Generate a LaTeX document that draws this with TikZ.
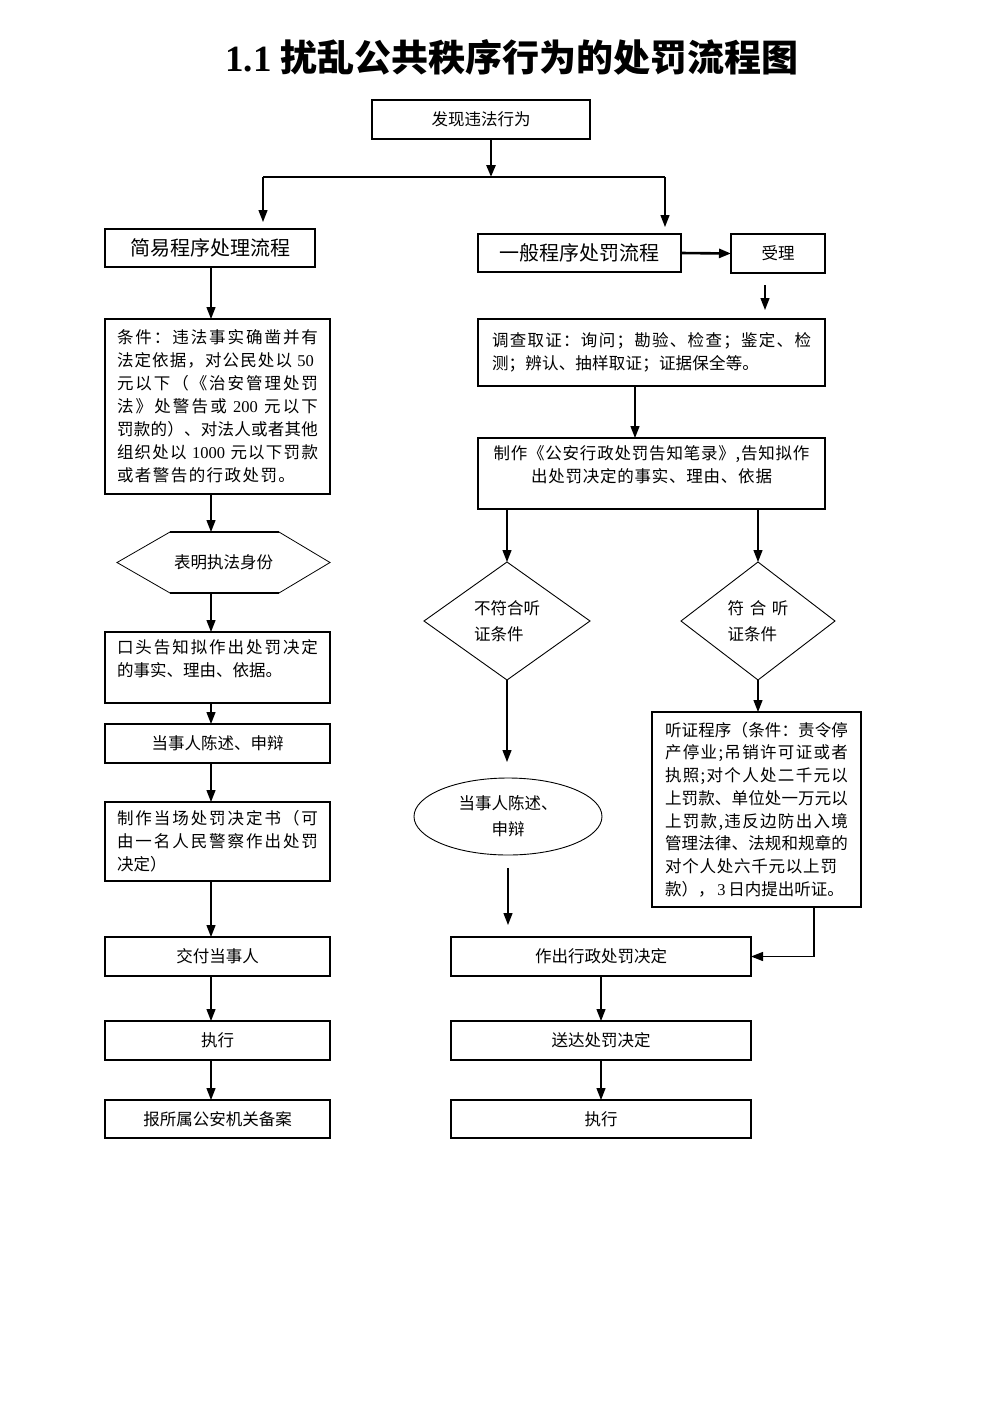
\documentclass[tikz,border=0pt]{standalone}
\usepackage{fontspec}
\setmainfont{Liberation Serif}
\newfontfamily\cjk{Noto Sans CJK SC}
\usetikzlibrary{arrows.meta,shapes.geometric,calc}
\def\spEnd{SPEND}
\def\spr#1{\sprA#1\spEnd}
\def\sprA#1{#1\sprB}
\def\sprB#1{\ifx\spEnd#1\else\hfil#1\expandafter\sprB\fi}
\newcommand\sline[2]{\makebox[#1pt][s]{\spr{#2}}}
\newcommand\dg[1]{{\rmfamily\ #1\ }}
\def\nA{\dg{50}}
\def\nB{\dg{200}}
\def\nC{\dg{1000}}
\def\nD{\dg{3}}
\newcommand\txt{\fontsize{16.5}{23}\selectfont\cjk}
\tikzset{
  box/.style={draw, rectangle, line width=1.5pt, anchor=north west, inner sep=0pt, outer sep=0pt, font=\txt, align=left},
  thickbox/.style={line width=2.6pt},
  thinline/.style={line width=1.3pt},
  thickline/.style={line width=2.6pt},
  arr/.style={line width=1.3pt, -{Triangle[length=12pt,width=9pt]}},
  shape2/.style={draw, line width=0.9pt, inner sep=0pt, outer sep=0pt, align=left}
}
\begin{document}
\begin{tikzpicture}[x=1pt,y=-1pt]
\fill[white] (0,0) rectangle (992,1403);
\useasboundingbox (0,0) rectangle (992,1403);

\node[font=\fontsize{37}{42}\selectfont\bfseries] (title) at (512,57) {1.1 {\cjk\bfseries 扰乱公共秩序行为的处罚流程图}};

% top
\node[box, minimum width=218, minimum height=39, align=center] (find) at (372,100) {发现违法行为};
\node[box, font=\fontsize{20}{24}\selectfont\cjk, minimum width=210, minimum height=38, align=center] (simple) at (105,229) {简易程序处理流程};
\node[box, thickbox, font=\fontsize{20}{24}\selectfont\cjk, minimum width=203, minimum height=38, align=center] (general) at (478,234) {一般程序处罚流程};
\node[box, minimum width=94, minimum height=39, align=center] (accept) at (731,234) {受理};

% left column
\node[box, minimum width=225, minimum height=175] (cond) at (105,319) {%
\sline{201}{条件：违法事实确凿并有}\\
\sline{201}{法定依据，对公民处以\nA}\\
\sline{201}{元以下（《治安管理处罚}\\
\sline{201}{法》处警告或\nB 元以下}\\
\sline{201}{罚款的）、对法人或者其他}\\
\sline{201}{组织处以\nC 元以下罚款}\\
\sline{178}{或者警告的行政处罚。}};

\node[minimum width=213, minimum height=61, inner sep=0pt, outer sep=0pt, font=\txt] (hex) at (223.5,562.5) {表明执法身份};
\draw[line width=0.8pt] ($(hex.north east)+(-51,0)$) -- (hex.east) -- ($(hex.south east)+(-51,0)$);
\draw[line width=0.8pt] ($(hex.north west)+(53,0)$) -- (hex.west) -- ($(hex.south west)+(53,0)$);
\draw[line width=2pt] ($(hex.north west)+(53,0)$) -- ($(hex.north east)+(-51,0)$);
\draw[line width=2pt] ($(hex.south west)+(53,0)$) -- ($(hex.south east)+(-51,0)$);

\node[box, line width=2pt, minimum width=225, minimum height=71] (oral) at (105,632) {%
\sline{201}{口头告知拟作出处罚决定}\\
\sline{165}{的事实、理由、依据。}\\[-5pt]\mbox{}};
\node[box, minimum width=225, minimum height=39, align=center] (state) at (105,724) {当事人陈述、申辩};
\node[box, minimum width=225, minimum height=79] (make) at (105,802) {%
\sline{201}{制作当场处罚决定书（可}\\
\sline{201}{由一名人民警察作出处罚}\\
\sline{49}{决定）}};
\node[box, line width=2pt, minimum width=225, minimum height=39, align=center] (hand) at (105,937) {交付当事人};
\node[box, line width=2pt, minimum width=225, minimum height=39, align=center] (exec1) at (105,1021) {执行};
\node[box, line width=2pt, minimum width=225, minimum height=38, align=center] (report) at (105,1100) {报所属公安机关备案};

% right column
\node[box, minimum width=347, minimum height=67] (invest) at (478,319) {%
\sline{319}{调查取证：询问；勘验、检查；鉴定、检}\\
\sline{267}{测；辨认、抽样取证；证据保全等。}};
\node[box, minimum width=347, minimum height=71, align=center] (notice) at (478,438) {%
\sline{316}{制作《公安行政处罚告知笔录》,告知拟作}\\
\sline{241}{出处罚决定的事实、理由、依据}\\[-5pt]\mbox{}};

\node[diamond, shape2, minimum width=166, minimum height=118, font=\fontsize{16.5}{26}\selectfont\cjk] (d1) at (507,621) {不符合听\\证条件};
\node[diamond, shape2, minimum width=154, minimum height=118, font=\fontsize{16.5}{26}\selectfont\cjk] (d2) at (758,621) {\makebox[61pt][s]{符\hfil 合\hfil 听}\\证条件};
\node[ellipse, shape2, minimum width=188, minimum height=77, align=center, font=\fontsize{16.5}{26}\selectfont\cjk] (plead) at (508,816.5) {当事人陈述、\\申辩};

\node[box, line width=1.2pt, minimum width=209, minimum height=195, font=\fontsize{16.5}{22.7}\selectfont\cjk] (hear) at (652,712) {%
\sline{183}{听证程序（条件：责令停}\\
\sline{183}{产停业;吊销许可证或者}\\
\sline{183}{执照;对个人处二千元以}\\
\sline{183}{上罚款、单位处一万元以}\\
\sline{183}{上罚款,违反边防出入境}\\
\sline{183}{管理法律、法规和规章的}\\
\sline{172}{对个人处六千元以上罚}\\
\sline{170}{款），\nD 日内提出听证。}};

\node[box, thickbox, minimum width=300, minimum height=39, align=center] (decide) at (451,937) {作出行政处罚决定};
\node[box, minimum width=300, minimum height=39, align=center] (send) at (451,1021) {送达处罚决定};
\node[box, minimum width=300, minimum height=38, align=center] (exec2) at (451,1100) {执行};

% connectors
\coordinate (jL) at (263,177);
\coordinate (jM) at (365,177);
\coordinate (jC) at (491,177);
\coordinate (jR) at (665,177);
\coordinate (lX) at (211,0);
\coordinate (aX) at (765,0);
\coordinate (iX) at (635,0);
\coordinate (hX) at (814,0);

\draw[arr, thickline] (jC |- find.south) -- (jC);
\draw[thinline] (jL) -- (jM);
\draw[thickline] (jM) -- (jR);
\draw[arr, shorten >=7pt] (jL) -- (jL |- simple.north);
\draw[arr, shorten >=7pt] (jR) -- (jR |- general.north);
\draw[arr, thickline] (general.east) -- (accept.west);
\draw[arr, shorten <=12pt, shorten >=9pt] (aX |- accept.south) -- (aX |- invest.north);

\draw[arr] (lX |- simple.south) -- (lX |- cond.north);
\draw[arr] (lX |- cond.south) -- (lX |- hex.north);
\draw[arr] (lX |- hex.south) -- (lX |- oral.north);
\draw[arr] (lX |- oral.south) -- (lX |- state.north);
\draw[arr] (lX |- state.south) -- (lX |- make.north);
\draw[arr] (lX |- make.south) -- (lX |- hand.north);
\draw[arr] (lX |- hand.south) -- (lX |- exec1.north);
\draw[arr] (lX |- exec1.south) -- (lX |- report.north);

\draw[arr] (iX |- invest.south) -- (iX |- notice.north);
\draw[arr] (d1.north |- notice.south) -- (d1.north);
\draw[arr] (d2.north |- notice.south) -- (d2.north);
\draw[arr, shorten >=16pt] (d1.south) -- (d1.south |- plead.north);
\draw[arr, shorten <=13pt, shorten >=12pt] (plead.south) -- (plead.south |- decide.north);
\draw[arr] (d2.south) -- (d2.south |- hear.north);
\draw[arr] (hX |- hear.south) |- (decide.east);
\draw[arr] (decide.south) -- (send.north);
\draw[arr] (send.south) -- (exec2.north);
\end{tikzpicture}
\end{document}
